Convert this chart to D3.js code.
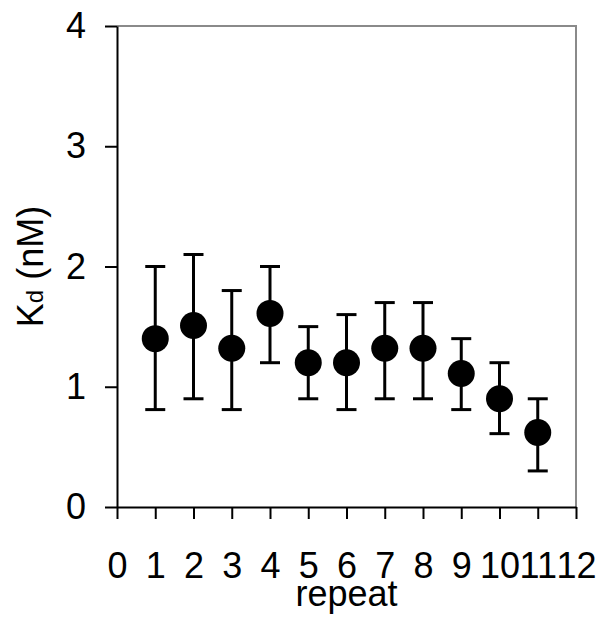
<!DOCTYPE html>
<html lang="en">
<head>
    <meta charset="UTF-8">
    <title>Kd per repeat</title>
    <script src="https://cdn.jsdelivr.net/npm/d3@7"></script>
    <style>
        body { margin: 0; background: #fff; }
        text { font-family: "Liberation Sans", Arial, sans-serif; fill: #000; }
        .axis path, .axis line { stroke: #000; stroke-width: 2px; }
        .axis text { font-size: 36px; }
    </style>
</head>
<body>
<div id="chart"></div>
<script>
    // data
    const repeats = [1, 2, 3, 4, 5, 6, 7, 8, 9, 10, 11];
    const kd      = [1.40, 1.51, 1.32, 1.61, 1.20, 1.20, 1.32, 1.32, 1.11, 0.90, 0.62];
    const kdLow   = [0.81, 0.90, 0.81, 1.20, 0.90, 0.81, 0.90, 0.90, 0.81, 0.61, 0.30];
    const kdHigh  = [2.00, 2.10, 1.80, 2.00, 1.50, 1.60, 1.70, 1.70, 1.40, 1.20, 0.90];
    const xTicks = [0, 1, 2, 3, 4, 5, 6, 7, 8, 9, 10, 11, 12];
    const yTicks = [0, 1, 2, 3, 4];

    const width = 612;
    const height = 627;
    const margin = {top: 26, right: 36, bottom: 120, left: 117};

    const svg = d3.select("#chart")
        .append("svg")
        .attr("width", width)
        .attr("height", height);

    const x = d3.scaleLinear()
        .domain([0, 12])
        .range([margin.left, width - margin.right]);

    const y = d3.scaleLinear()
        .domain([0, 4])
        .range([height - margin.bottom, margin.top]);

    // grey frame on top and right
    svg.append("path")
        .attr("d", "M" + x(0) + "," + y(4) + "H" + x(12) + "V" + y(0))
        .attr("fill", "none")
        .attr("stroke", "#8a8a8a")
        .attr("stroke-width", 2);

    svg.append("g")
        .attr("class", "axis")
        .attr("transform", "translate(0," + y(0) + ")")
        .call(d3.axisBottom(x).tickValues(xTicks).tickFormat(d3.format("d"))
            .tickSize(12).tickSizeOuter(0).tickPadding(33));

    svg.append("g")
        .attr("class", "axis")
        .attr("transform", "translate(" + x(0) + ",0)")
        .call(d3.axisLeft(y).tickValues(yTicks).tickFormat(d3.format("d"))
            .tickSize(12).tickSizeOuter(0).tickPadding(19));

    const points = repeats.map(function (r, i) {
        return {r: r, v: kd[i], lo: kdLow[i], hi: kdHigh[i]};
    });

    const bars = svg.append("g")
        .attr("stroke", "#000")
        .attr("stroke-width", 3);

    bars.selectAll("line.stem")
        .data(points)
        .join("line")
        .attr("class", "stem")
        .attr("x1", d => x(d.r)).attr("x2", d => x(d.r))
        .attr("y1", d => y(d.lo)).attr("y2", d => y(d.hi));

    bars.selectAll("line.top")
        .data(points)
        .join("line")
        .attr("class", "top")
        .attr("x1", d => x(d.r) - 10).attr("x2", d => x(d.r) + 10)
        .attr("y1", d => y(d.hi)).attr("y2", d => y(d.hi));

    bars.selectAll("line.bot")
        .data(points)
        .join("line")
        .attr("class", "bot")
        .attr("x1", d => x(d.r) - 10).attr("x2", d => x(d.r) + 10)
        .attr("y1", d => y(d.lo)).attr("y2", d => y(d.lo));

    svg.append("g")
        .selectAll("circle")
        .data(points)
        .join("circle")
        .attr("cx", d => x(d.r))
        .attr("cy", d => y(d.v))
        .attr("r", 13.5)
        .attr("fill", "#000");

    // axis titles
    svg.append("text")
        .attr("x", (x(0) + x(12)) / 2)
        .attr("y", 606)
        .attr("text-anchor", "middle")
        .style("font-size", "36px")
        .text("repeat");

    const yTitle = svg.append("text")
        .attr("transform", "translate(43," + (y(0) + y(4)) / 2 + ") rotate(-90)")
        .attr("text-anchor", "middle")
        .style("font-size", "36px");
    yTitle.append("tspan").text("K");
    yTitle.append("tspan").style("font-size", "24px").text("d");
    yTitle.append("tspan").text(" (nM)");
</script>
</body>
</html>
